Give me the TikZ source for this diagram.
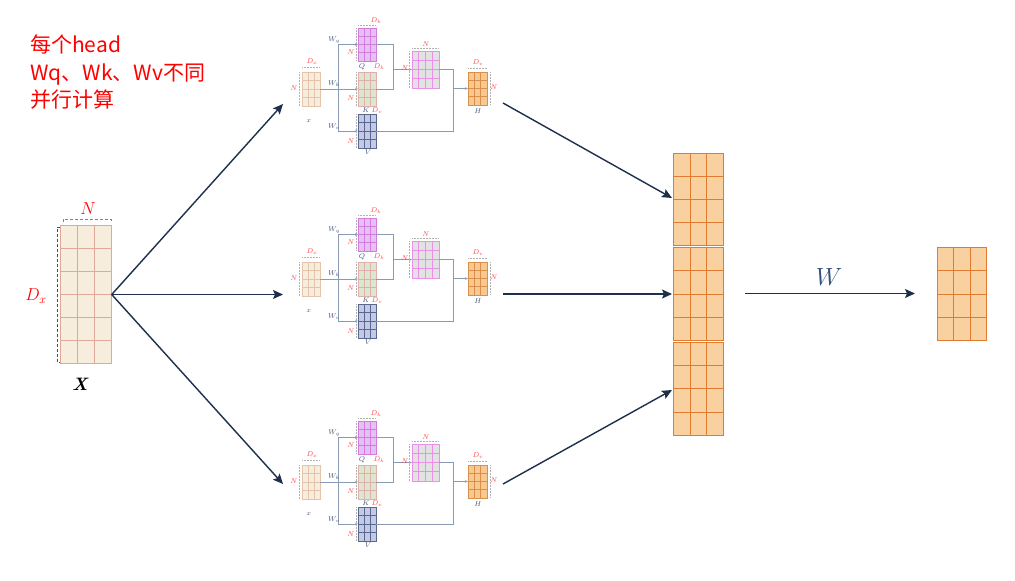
\documentclass[tikz,border=0pt]{standalone}
\usepackage{fontspec}
\newfontfamily\cjk{Noto Sans CJK SC}
\usetikzlibrary{calc,arrows.meta}
\definecolor{xfill}{HTML}{F7EDDC}
\definecolor{xline}{HTML}{E6C4AC}
\definecolor{bxline}{HTML}{E0A898}
\definecolor{qfill}{HTML}{E2C2F2}
\definecolor{qline}{HTML}{D77AE0}
\definecolor{kfill}{HTML}{DCE8CC}
\definecolor{kline}{HTML}{E0B0B0}
\definecolor{vfill}{HTML}{C3CAE6}
\definecolor{vline}{HTML}{5A6890}
\definecolor{sfill}{HTML}{E2E2E2}
\definecolor{sline}{HTML}{EA90E6}
\definecolor{hfill}{HTML}{F8C890}
\definecolor{hline}{HTML}{D8904C}
\definecolor{stfill}{HTML}{F9D0A0}
\definecolor{stline}{HTML}{E07B30}
\definecolor{hlc}{HTML}{8A9AB5}
\definecolor{lred}{HTML}{FF4040}
\definecolor{lblue}{HTML}{44557A}
\definecolor{navy}{HTML}{1E2F4D}
\definecolor{wblue}{HTML}{2F5080}
\newcommand\gridmat[9]{%
  \node[draw=#9, fill=#8, line width=0.6pt, minimum width=#4pt, minimum height=#5pt,
        inner sep=0pt, outer sep=0pt, anchor=north west] (#1) at (#2,#3) {};
  \pgfmathtruncatemacro\gmc{#6-1}%
  \pgfmathtruncatemacro\gmr{#7-1}%
  \foreach \i in {1,...,\gmc}
    \draw[#9, line width=0.6pt] ($(#1.north west)!\i/#6!(#1.north east)$) -- ($(#1.south west)!\i/#6!(#1.south east)$);
  \foreach \i in {1,...,\gmr}
    \draw[#9, line width=0.6pt] ($(#1.north west)!\i/#7!(#1.south west)$) -- ($(#1.north east)!\i/#7!(#1.south east)$);
}
\tikzset{
  hl/.style={hlc, line width=0.6pt},
  hla/.style={hl, -{Stealth[length=3pt,width=2.5pt]}},
  lbl/.style={text=lred, font=\fontsize{7}{8}\selectfont, inner sep=0pt},
  dlbl/.style={text=lblue, font=\fontsize{7}{8}\selectfont, inner sep=0pt},
  brk/.style={gray!60, densely dotted, line width=0.5pt},
  big/.style={navy, line width=1.4pt, -{Stealth[length=10pt,width=9pt,inset=2pt]}},
  cn/.style={text=red, font=\cjk\fontsize{21}{28}\selectfont, anchor=base west, inner sep=0pt}
}
\begin{document}
\begin{tikzpicture}[x=1pt,y=-1pt]
\useasboundingbox[fill=white] (0,0) rectangle (1015,581);
% Chinese text
\node[cn] (t1) at (30,52) {每个head};
\node[cn] (t2) at (30,80) {Wq、Wk、Wv不同};
\node[cn] (t3) at (30,107) {并行计算};
% big X
\gridmat{X}{60.7}{225.7}{51}{137.6}{3}{6}{xfill}{bxline}
\draw[gray, densely dashed, line width=0.5pt] (63,222)--(63,219)--(111,219)--(111,222);
\draw[black!70, densely dashed, line width=0.5pt] (60,227)--(57,227)--(57,362)--(60,362);
\node[text=red, font=\fontsize{18}{20}\selectfont, inner sep=0pt] (Nx) at (88,209) {$N$};
\node[text=red, font=\fontsize{18}{20}\selectfont, inner sep=0pt] (Dx) at (36,296) {$D_x$};
\node[text=black, font=\fontsize{18}{20}\selectfont\bfseries\itshape, inner sep=0pt] (Xl) at (80,384) {X};
% heads
\foreach \dy/\s in {0/a,190/b,393/c}{
\begin{scope}[yshift=-\dy pt]
\gridmat{x\s}{302}{72}{18}{34}{3}{4}{xfill}{xline}
\gridmat{q\s}{358}{28}{18}{33}{3}{4}{qfill}{qline}
\gridmat{k\s}{358}{72}{18}{34}{3}{4}{kfill}{kline}
\gridmat{v\s}{358}{114}{18}{34}{3}{4}{vfill}{vline}
\gridmat{s\s}{412}{51}{27}{37}{4}{4}{sfill}{sline}
\gridmat{h\s}{468}{72}{19}{33}{3}{4}{hfill}{hline}
\coordinate (br\s) at (338,89);
\coordinate (c393\s) at (393,0);
\coordinate (c453\s) at (453,0);
\coordinate (m1\s) at (s\s.west -| c393\s);
\coordinate (m2\s) at (h\s.west -| c453\s);
\draw[hla] (x\s.east) -- (k\s.west);
\draw[hl] (br\s |- q\s.west) -- (br\s |- v\s.west);
\draw[hla] (br\s |- q\s.west) -- (q\s.west);
\draw[hla] (br\s |- v\s.west) -- (v\s.west);
\draw[hl] (q\s.east) -| (m1\s);
\draw[hl] (k\s.east) -| (m1\s);
\draw[hla] (m1\s) -- (s\s.west);
\draw[hl] (s\s.east) -| (m2\s);
\draw[hl] (v\s.east) -| (m2\s);
\draw[hla] (m2\s) -- (h\s.west);
% brackets
\draw[brk] (302,67)--(320,67); \draw[brk] (299,72)--(299,106);
\draw[brk] (358,25)--(376,25); \draw[brk] (356,28)--(356,61);
\draw[brk] (356,72)--(356,106);
\draw[brk] (356,114)--(356,148);
\draw[brk] (412,48)--(439,48); \draw[brk] (409,51)--(409,88);
\draw[brk] (468,68)--(487,68); \draw[brk] (490,72)--(490,105);
% labels
\node[lbl] (dx\s) at (312,62) {$D_x$};
\node[lbl] (nx\s) at (294,88) {$N$};
\node[dlbl] (xl\s) at (309,121) {$x$};
\node[dlbl] (wq\s) at (334,40) {$W_q$};
\node[dlbl] (wk\s) at (334,84) {$W_k$};
\node[dlbl] (wv\s) at (334,127) {$W_v$};
\node[lbl] (dkq\s) at (376,21) {$D_k$};
\node[lbl] (nq\s) at (351,52) {$N$};
\node[dlbl] (ql\s) at (362,67) {$Q$};
\node[lbl] (dkk\s) at (379,67) {$D_k$};
\node[lbl] (nk\s) at (351,98) {$N$};
\node[dlbl] (kl\s) at (366,110) {$K$};
\node[lbl] (dvv\s) at (377,111) {$D_v$};
\node[lbl] (nv\s) at (351,141) {$N$};
\node[dlbl] (vl\s) at (368,152) {$V$};
\node[lbl] (ns\s) at (426,44) {$N$};
\node[lbl] (nsl\s) at (405,68) {$N$};
\node[lbl] (dvh\s) at (478,63) {$D_v$};
\node[lbl] (nh\s) at (494,87) {$N$};
\node[dlbl] (hh\s) at (478,111) {$H$};
\end{scope}
}
% stack
\gridmat{st1}{673.3}{153.3}{50}{91.7}{3}{4}{stfill}{stline}
\gridmat{st2}{673.3}{247.5}{50}{93}{3}{4}{stfill}{stline}
\gridmat{st3}{673.3}{342.3}{50}{92.7}{3}{4}{stfill}{stline}
% final
\gridmat{out}{937.3}{247.3}{49.4}{93.4}{3}{4}{stfill}{stline}
% big arrows
\coordinate (ea) at (283,104);
\coordinate (eb) at (283,294.5);
\coordinate (ec) at (283,484);
\draw[big] (X.east) -- (ea);
\draw[big] (X.east) -- (eb);
\draw[big] (X.east) -- (ec);
\coordinate (sa) at (503,103);
\coordinate (sb) at (503,294);
\coordinate (sc) at (503,484);
\coordinate (ta) at (672,198);
\coordinate (tb) at (672,294);
\coordinate (tc) at (672,390);
\draw[big] (sa) -- (ta);
\draw[big] (sb) -- (tb);
\draw[big] (sc) -- (tc);
\coordinate (ws) at (745,293.5);
\coordinate (we) at (915,293.5);
\draw[big] (ws) -- (we);
\node[text=wblue, font=\fontsize{26}{28}\selectfont, inner sep=0pt] (Wl) at (829,277) {$W$};
\end{tikzpicture}
\end{document}
